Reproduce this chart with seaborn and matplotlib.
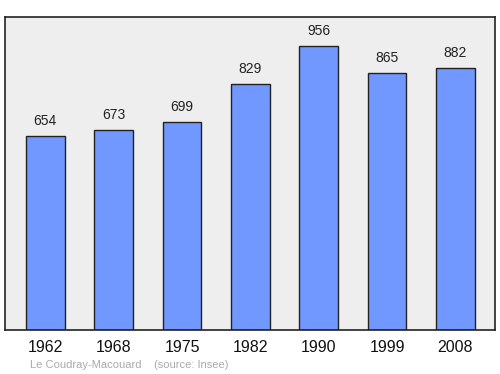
import matplotlib
matplotlib.use("Agg")
import matplotlib.pyplot as plt
import seaborn as sns
import pandas as pd

years = ["1962", "1968", "1975", "1982", "1990", "1999", "2008"]
population = [654, 673, 699, 829, 956, 865, 882]
commune = "Le Coudray-Macouard"
source = "(source: Insee)"

df = pd.DataFrame({"year": years, "pop": population})

sns.set_style("white")
plt.rcParams["font.family"] = ["Liberation Sans", "DejaVu Sans"]

fig = plt.figure(figsize=(5, 3.74), dpi=100)
ax = fig.add_axes([0.01, 0.1176, 0.98, 0.8369])
ax.set_facecolor("#eeeeee")

sns.barplot(data=df, x="year", y="pop", color="#7098ff", saturation=1,
            width=0.57, edgecolor="#222222", linewidth=1, ax=ax)

for i, v in enumerate(population):
    ax.text(i, v + 27, str(v), ha="center", va="bottom", fontsize=10, color="#222222")

ax.set_xlim(-0.59, 6.58)
ax.set_ylim(0, 1054)
ax.set_yticks([])
ax.set_xlabel("")
ax.set_ylabel("")
ax.tick_params(axis="x", length=0, labelsize=11.5, pad=7, colors="#111111")
for s in ax.spines.values():
    s.set_color("#222222")
    s.set_linewidth(1.2)

fig.text(30 / 500, 1 - 365 / 374, commune + "    " + source, fontsize=8,
         color="#aaaaaa", ha="left", va="center")

fig.savefig("out.png", dpi=100)
